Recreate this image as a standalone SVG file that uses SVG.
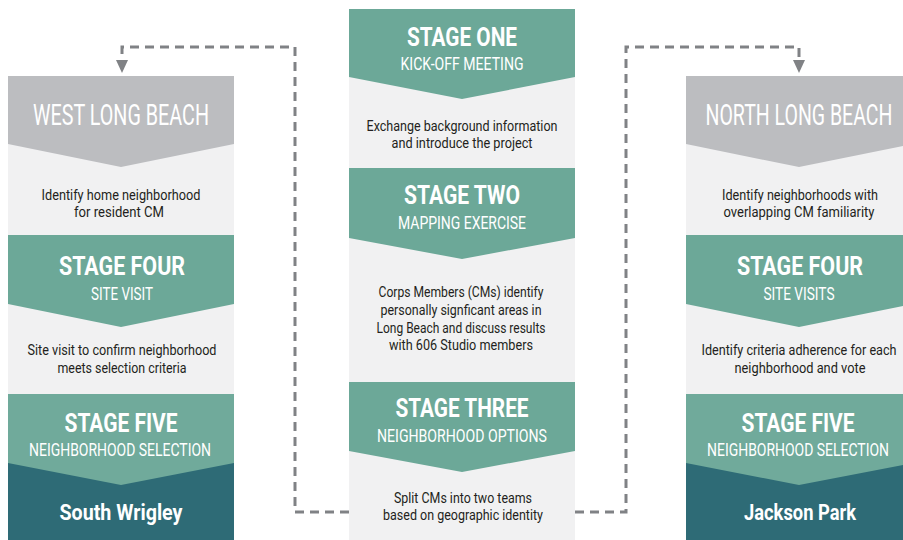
<svg xmlns="http://www.w3.org/2000/svg" width="903" height="540" viewBox="0 0 903 540">
  <style>
    text { font-family: Roboto, "Liberation Sans", sans-serif; text-anchor: middle; }
    .panel { fill: #f1f1f2; }
    .grey { fill: #bcbdc0; }
    .teal { fill: #6ca898; }
    .teal2 { fill: #70aa9b; }
    .dark { fill: #2e6b76; }
    .hdr { font-weight: 400; font-size: 29px; fill: #ffffff; }
    .ttl { font-weight: 700; font-size: 25px; fill: #ffffff; }
    .sub { font-weight: 400; font-size: 18px; fill: #ffffff; }
    .body { font-weight: 400; font-size: 14px; fill: #231f20; }
    .res { font-weight: 700; font-size: 22px; fill: #ffffff; }
    .link { fill: none; stroke: #808285; stroke-width: 3; stroke-dasharray: 9 6; }
  </style>
  <defs>
    <marker id="arrow" viewBox="0 0 13 12" refX="0" refY="6" markerWidth="13" markerHeight="12" markerUnits="userSpaceOnUse" orient="auto">
      <path d="M0,0 L13,6 L0,12 Z" fill="#808285"/>
    </marker>
  </defs>

  <!-- column backgrounds -->
  <rect class="panel" x="8" y="76" width="226" height="464"/>
  <rect class="panel" x="349" y="9" width="226" height="531"/>
  <rect class="panel" x="686" y="76" width="217" height="464"/>

  <!-- dashed connectors from stage three to both areas -->
  <g id="connectors">
    <path class="link" d="M349,512 H295 V47 H122 V60" marker-end="url(#arrow)"/>
    <path class="link" d="M575,512 H626 V47 H799 V60" marker-end="url(#arrow)"/>
  </g>

  <!-- centre column -->
  <g id="stage-one">
    <polygon class="teal" points="349,9 575,9 575,77 462,99 349,77"/>
    <text class="ttl" x="462" y="46" textLength="110" lengthAdjust="spacingAndGlyphs">STAGE ONE</text>
    <text class="sub" x="462" y="70" textLength="123" lengthAdjust="spacingAndGlyphs">KICK-OFF MEETING</text>
    <text class="body" x="462" y="131" textLength="191" lengthAdjust="spacingAndGlyphs">Exchange background information</text>
    <text class="body" x="462" y="148" textLength="141" lengthAdjust="spacingAndGlyphs">and introduce the project</text>
  </g>
  <g id="stage-two">
    <polygon class="teal" points="349,168 575,168 575,238 462,259 349,238"/>
    <text class="ttl" x="462" y="204" textLength="116" lengthAdjust="spacingAndGlyphs">STAGE TWO</text>
    <text class="sub" x="462" y="229" textLength="128" lengthAdjust="spacingAndGlyphs">MAPPING EXERCISE</text>
    <text class="body" x="461" y="297" textLength="165" lengthAdjust="spacingAndGlyphs">Corps Members (CMs) identify</text>
    <text class="body" x="461" y="315" textLength="161" lengthAdjust="spacingAndGlyphs">personally signficant areas in</text>
    <text class="body" x="461" y="333" textLength="169" lengthAdjust="spacingAndGlyphs">Long Beach and discuss results</text>
    <text class="body" x="461" y="350" textLength="144" lengthAdjust="spacingAndGlyphs">with 606 Studio members</text>
  </g>
  <g id="stage-three">
    <polygon class="teal" points="349,382 575,382 575,451 462,472 349,451"/>
    <text class="ttl" x="462" y="417" textLength="133" lengthAdjust="spacingAndGlyphs">STAGE THREE</text>
    <text class="sub" x="462" y="442" textLength="170" lengthAdjust="spacingAndGlyphs">NEIGHBORHOOD OPTIONS</text>
    <text class="body" x="463" y="503" textLength="138" lengthAdjust="spacingAndGlyphs">Split CMs into two teams</text>
    <text class="body" x="463" y="520" textLength="160" lengthAdjust="spacingAndGlyphs">based on geographic identity</text>
  </g>

  <!-- left column -->
  <g id="west-long-beach">
    <polygon class="grey" points="8,76 234,76 234,144 121,167 8,144"/>
    <text class="hdr" x="121" y="125" textLength="176" lengthAdjust="spacingAndGlyphs">WEST LONG BEACH</text>
    <text class="body" x="121" y="200" textLength="159" lengthAdjust="spacingAndGlyphs">Identify home neighborhood</text>
    <text class="body" x="119" y="217" textLength="90" lengthAdjust="spacingAndGlyphs">for resident CM</text>
  </g>
  <g id="west-stage-four">
    <polygon class="teal" points="8,235 234,235 234,304 121,327 8,304"/>
    <text class="ttl" x="122" y="275" textLength="126" lengthAdjust="spacingAndGlyphs">STAGE FOUR</text>
    <text class="sub" x="122" y="300" textLength="62" lengthAdjust="spacingAndGlyphs">SITE VISIT</text>
    <text class="body" x="122" y="355" textLength="189" lengthAdjust="spacingAndGlyphs">Site visit to confirm neighborhood</text>
    <text class="body" x="122" y="373" textLength="129" lengthAdjust="spacingAndGlyphs">meets selection criteria</text>
  </g>
  <g id="west-stage-five">
    <rect class="dark" x="8" y="460" width="226" height="80"/>
    <polygon class="teal2" points="8,394 234,394 234,463 121,485 8,463"/>
    <text class="ttl" x="121" y="432" textLength="113" lengthAdjust="spacingAndGlyphs">STAGE FIVE</text>
    <text class="sub" x="120" y="456" textLength="182" lengthAdjust="spacingAndGlyphs">NEIGHBORHOOD SELECTION</text>
    <text class="res" x="121" y="520" textLength="123" lengthAdjust="spacingAndGlyphs">South Wrigley</text>
  </g>

  <!-- right column (runs to the page edge) -->
  <g id="north-long-beach">
    <polygon class="grey" points="686,76 903,76 903,146 799,167 686,144"/>
    <text class="hdr" x="799" y="125" textLength="187" lengthAdjust="spacingAndGlyphs">NORTH LONG BEACH</text>
    <text class="body" x="800" y="200" textLength="156" lengthAdjust="spacingAndGlyphs">Identify neighborhoods with</text>
    <text class="body" x="799" y="217" textLength="151" lengthAdjust="spacingAndGlyphs">overlapping CM familiarity</text>
  </g>
  <g id="north-stage-four">
    <polygon class="teal" points="686,235 903,235 903,306 799,327 686,304"/>
    <text class="ttl" x="800" y="275" textLength="126" lengthAdjust="spacingAndGlyphs">STAGE FOUR</text>
    <text class="sub" x="799" y="300" textLength="71" lengthAdjust="spacingAndGlyphs">SITE VISITS</text>
    <text class="body" x="799" y="355" textLength="195" lengthAdjust="spacingAndGlyphs">Identify criteria adherence for each</text>
    <text class="body" x="800" y="373" textLength="131" lengthAdjust="spacingAndGlyphs">neighborhood and vote</text>
  </g>
  <g id="north-stage-five">
    <rect class="dark" x="686" y="460" width="217" height="80"/>
    <polygon class="teal2" points="686,394 903,394 903,465 799,485 686,463"/>
    <text class="ttl" x="798" y="432" textLength="113" lengthAdjust="spacingAndGlyphs">STAGE FIVE</text>
    <text class="sub" x="798" y="456" textLength="182" lengthAdjust="spacingAndGlyphs">NEIGHBORHOOD SELECTION</text>
    <text class="res" x="800" y="520" textLength="112" lengthAdjust="spacingAndGlyphs">Jackson Park</text>
  </g>
</svg>
